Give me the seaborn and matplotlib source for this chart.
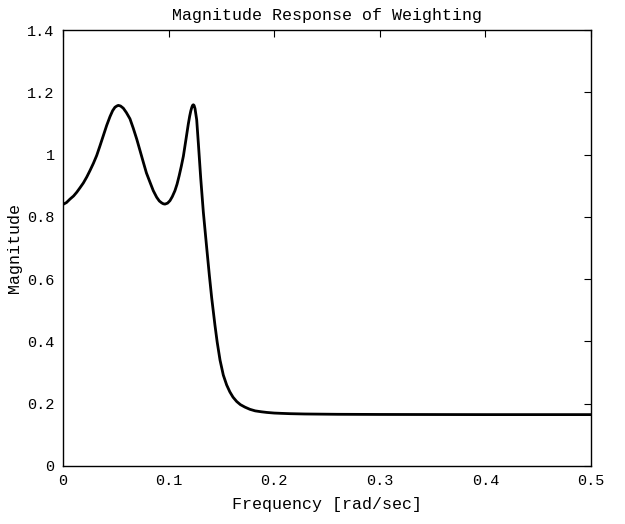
import numpy as np
import pandas as pd
import matplotlib
matplotlib.use("Agg")
import matplotlib.pyplot as plt
import seaborn as sns

# valores
freq = [0.000, 0.0033, 0.0066, 0.010, 0.013, 0.016, 0.0193, 0.0225, 0.0256, 0.0288,
        0.0319, 0.035, 0.0382, 0.0414, 0.0445, 0.0470, 0.0492, 0.0510, 0.0524, 0.0545,
        0.0571, 0.060, 0.0634, 0.0665, 0.0698, 0.073, 0.0761, 0.079, 0.0824, 0.0855,
        0.0887, 0.0912, 0.0934, 0.0950, 0.0966, 0.0990, 0.1013, 0.1035, 0.106, 0.108,
        0.110, 0.112, 0.114, 0.1165, 0.1187, 0.120, 0.121, 0.122, 0.1227, 0.1234,
        0.1241, 0.125, 0.1266, 0.1282, 0.1304, 0.1329, 0.1361, 0.1386, 0.1408, 0.1439,
        0.146, 0.1487, 0.1518, 0.155, 0.158, 0.161, 0.1645, 0.168, 0.1723, 0.177,
        0.182, 0.188, 0.193, 0.200, 0.207, 0.215, 0.229, 0.260, 0.300, 0.400, 0.500]
magnitude = [0.840, 0.846, 0.857, 0.867, 0.879, 0.893, 0.909, 0.928, 0.949, 0.972,
             0.997, 1.028, 1.061, 1.094, 1.122, 1.141, 1.152, 1.156, 1.158, 1.156,
             1.149, 1.135, 1.115, 1.085, 1.050, 1.012, 0.975, 0.941, 0.911, 0.884,
             0.863, 0.851, 0.845, 0.842, 0.841, 0.844, 0.852, 0.865, 0.884, 0.905,
             0.932, 0.962, 0.995, 1.050, 1.099, 1.124, 1.140, 1.152, 1.158, 1.160,
             1.158, 1.148, 1.112, 1.035, 0.925, 0.815, 0.700, 0.612, 0.540, 0.452,
             0.398, 0.340, 0.292, 0.260, 0.238, 0.221, 0.207, 0.197, 0.189, 0.182,
             0.177, 0.174, 0.172, 0.170, 0.169, 0.168, 0.167, 0.166, 0.1655, 0.165, 0.165]

df = pd.DataFrame({"freq": freq, "mag": magnitude})

sns.set_theme(style="white")
plt.rcParams["font.family"] = ["Liberation Mono", "DejaVu Sans Mono"]

fig = plt.figure(figsize=(6.25, 5.24), dpi=100)
ax = fig.add_axes([0.1008, 0.1107, 0.8448, 0.832])

sns.lineplot(data=df, x="freq", y="mag", color="black", linewidth=2, ax=ax)

ax.set_xlim(0, 0.5)
ax.set_ylim(0, 1.4)
ax.set_xticks([0, 0.1, 0.2, 0.3, 0.4, 0.5])
ax.set_xticklabels(["0", "0.1", "0.2", "0.3", "0.4", "0.5"])
ax.set_yticks([0, 0.2, 0.4, 0.6, 0.8, 1.0, 1.2, 1.4])
ax.set_yticklabels(["0", "0.2", "0.4", "0.6", "0.8", "1", "1.2", "1.4"])
ax.tick_params(direction="in", top=True, right=True, length=5, width=0.8,
               labelsize=11, colors="black", pad=6)

for s in ax.spines.values():
    s.set_color("black")
    s.set_linewidth(1)

ax.set_xlabel("Frequency [rad/sec]", fontsize=12, color="black", labelpad=6)
ax.set_ylabel("Magnitude", fontsize=12, color="black", labelpad=4)
ax.set_title("Magnitude Response of Weighting", fontsize=12, color="black", pad=7)

fig.savefig("out.png", dpi=100, facecolor="white")
